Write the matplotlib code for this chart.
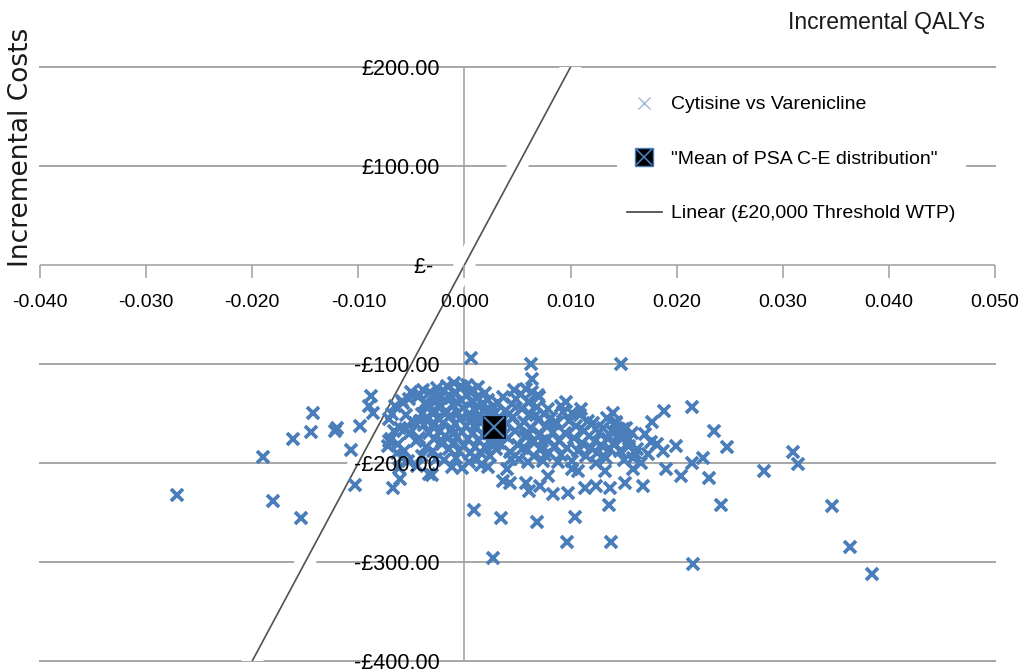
import matplotlib.pyplot as plt
import matplotlib.patheffects as pe
from matplotlib.lines import Line2D
from matplotlib import font_manager

# PSA runs: (incremental QALYs, incremental costs), by region
psa_far_left = [
    (-0.0271, -232), (-0.0190, -194), (-0.0180, -238), (-0.0154, -256),
    (-0.0162, -176), (-0.0145, -169), (-0.0143, -149), (-0.0122, -168),
    (-0.0120, -165), (-0.0098, -163), (-0.0107, -187), (-0.0103, -222),
    (-0.0088, -132), (-0.0090, -142), (-0.0086, -149), (-0.0067, -225),
    (-0.0061, -216), (-0.0031, -212), (-0.0002, -205),
]
psa_left = [
    (-0.0071, -156), (-0.0071, -178), (-0.0066, -168), (-0.0059, -137),
    (-0.0052, -135), (-0.0043, -130), (-0.0049, -158), (-0.0065, -142),
    (-0.0057, -188), (-0.0046, -178), (-0.0036, -184), (-0.0072, -183),
    (-0.0063, -181), (-0.0059, -195), (-0.0040, -151), (-0.0028, -161),
    (-0.0021, -178), (-0.0024, -135), (-0.0069, -176), (-0.0064, -190),
    (-0.0061, -165), (-0.0058, -139), (-0.0055, -152), (-0.0053, -198),
    (-0.0051, -170), (-0.0047, -160), (-0.0044, -133), (-0.0043, -175),
    (-0.0040, -193), (-0.0038, -162), (-0.0037, -139), (-0.0034, -155),
    (-0.0033, -170), (-0.0032, -128), (-0.0030, -188), (-0.0029, -146),
    (-0.0027, -196), (-0.0026, -124), (-0.0062, -205), (-0.0045, -203),
    (-0.0050, -128), (-0.0039, -126), (-0.0068, -150), (-0.0056, -166),
    (-0.0042, -158), (-0.0035, -141),
]
psa_core = [
    (-0.0024, -131), (-0.0019, -127), (-0.0013, -134), (-0.0008, -129),
    (-0.0003, -136), (0.0002, -131), (0.0007, -138), (0.0012, -133),
    (0.0017, -140), (0.0022, -136), (0.0027, -142), (0.0032, -139),
    (-0.0022, -142), (-0.0017, -147), (-0.0011, -141), (-0.0006, -149),
    (-0.0001, -144), (0.0004, -150), (0.0009, -145), (0.0014, -152),
    (0.0019, -147), (0.0024, -154), (0.0029, -149), (0.0034, -156),
    (-0.0025, -155), (-0.0020, -160), (-0.0014, -153), (-0.0009, -161),
    (-0.0004, -156), (0.0001, -163), (0.0006, -158), (0.0011, -165),
    (0.0016, -159), (0.0021, -166), (0.0026, -160), (0.0031, -167),
    (-0.0023, -168), (-0.0018, -173), (-0.0012, -166), (-0.0007, -174),
    (-0.0002, -169), (0.0003, -176), (0.0008, -170), (0.0013, -177),
    (0.0018, -172), (0.0023, -178), (0.0028, -173), (0.0033, -180),
    (-0.0021, -181), (-0.0015, -186), (-0.0010, -179), (-0.0005, -188),
    (0.0000, -183), (0.0005, -190), (0.0010, -184), (0.0015, -189),
    (0.0020, -185), (-0.0016, -122), (-0.0010, -119), (-0.0004, -124),
    (0.0002, -121), (0.0008, -126), (0.0013, -123), (-0.0028, -138),
    (-0.0030, -150), (-0.0031, -163), (-0.0029, -176), (-0.0019, -197),
    (-0.0008, -195), (0.0004, -199), (0.0012, -196), (0.0024, -193),
    (0.0030, -186), (-0.0012, -204), (0.0016, -202), (-0.0003, -122),
    (-0.0015, -131), (0.0005, -128), (0.0019, -129), (-0.0018, -151),
    (0.0007, -153), (0.0025, -147), (-0.0011, -171), (0.0009, -163),
    (0.0029, -181), (-0.0006, -139), (0.0014, -143), (0.0032, -168),
]
psa_mid = [
    (0.0036, -133), (0.0038, -147), (0.0040, -161), (0.0041, -175),
    (0.0043, -189), (0.0045, -140), (0.0046, -154), (0.0048, -168),
    (0.0050, -182), (0.0051, -196), (0.0053, -130), (0.0054, -145),
    (0.0056, -159), (0.0057, -173), (0.0059, -187), (0.0060, -138),
    (0.0062, -151), (0.0063, -165), (0.0065, -179), (0.0066, -193),
    (0.0068, -143), (0.0069, -157), (0.0071, -171), (0.0072, -185),
    (0.0074, -198), (0.0075, -150), (0.0077, -163), (0.0078, -177),
    (0.0080, -190), (0.0082, -155), (0.0083, -169), (0.0085, -183),
    (0.0058, -125), (0.0064, -128), (0.0047, -126), (0.0070, -133),
    (0.0006, -94), (0.0063, -100), (0.0064, -115), (0.0069, -131),
    (0.0037, -172), (0.0042, -150), (0.0049, -135), (0.0052, -163),
    (0.0055, -185), (0.0061, -171), (0.0067, -152), (0.0073, -178),
    (0.0079, -145), (0.0084, -160), (0.0044, -196), (0.0060, -199),
    (0.0076, -192),
]
psa_right = [
    (0.0087, -160), (0.0089, -178), (0.0091, -192), (0.0093, -148),
    (0.0095, -170), (0.0097, -185), (0.0099, -158), (0.0101, -198),
    (0.0103, -175), (0.0105, -163), (0.0107, -188), (0.0109, -152),
    (0.0111, -180), (0.0113, -168), (0.0115, -193), (0.0117, -173),
    (0.0119, -185), (0.0121, -160), (0.0123, -178), (0.0125, -190),
    (0.0127, -170), (0.0129, -182), (0.0131, -165), (0.0133, -195),
    (0.0135, -176), (0.0137, -186), (0.0139, -168), (0.0141, -180),
    (0.0143, -160), (0.0145, -172), (0.0147, -188), (0.0149, -175),
    (0.0152, -165), (0.0155, -183), (0.0158, -170), (0.0161, -190),
    (0.0096, -138), (0.0110, -145), (0.0088, -199), (0.0124, -200),
    (0.0134, -155), (0.0150, -197), (0.0091, -142), (0.0101, -149),
    (0.0116, -158), (0.0140, -149), (0.0143, -159), (0.0146, -166),
    (0.0151, -166), (0.0148, -100), (0.0149, -166), (0.0155, -176),
    (0.0163, -186), (0.0170, -171), (0.0166, -200),
]
psa_low = [
    (-0.0033, -211), (0.0022, -204), (0.0009, -247), (0.0034, -256),
    (0.0027, -296), (0.0036, -218), (0.0043, -220), (0.0040, -206),
    (0.0058, -220), (0.0061, -228), (0.0068, -260), (0.0071, -223),
    (0.0079, -213), (0.0083, -231), (0.0097, -280), (0.0098, -230),
    (0.0104, -255), (0.0107, -208), (0.0114, -225), (0.0124, -223),
    (0.0137, -225), (0.0136, -242), (0.0138, -280), (0.0151, -220),
    (0.0159, -195), (0.0132, -208), (0.0101, -206),
]
psa_far_right = [
    (0.0214, -143), (0.0188, -147), (0.0177, -159), (0.0235, -168),
    (0.0247, -184), (0.0199, -183), (0.0225, -195), (0.0214, -200),
    (0.0230, -215), (0.0204, -213), (0.0190, -206), (0.0187, -188),
    (0.0173, -191), (0.0176, -179), (0.0181, -181), (0.0159, -206),
    (0.0168, -223), (0.0242, -242), (0.0215, -302), (0.0282, -208),
    (0.0310, -189), (0.0314, -201), (0.0346, -243), (0.0363, -285),
    (0.0384, -312),
]

mean_qaly = 0.0028
mean_cost = -164

# £20,000 per QALY threshold line
wtp_qaly = [-0.020, 0.010]
wtp_cost = [-400, 200]

qaly_ticks = [-0.040, -0.030, -0.020, -0.010, 0.000, 0.010, 0.020, 0.030, 0.040, 0.050]
qaly_labels = ['-0.040', '-0.030', '-0.020', '-0.010', '0.000', '0.010', '0.020', '0.030', '0.040', '0.050']
cost_ticks = [200, 100, 0, -100, -200, -300, -400]
cost_labels = ['£200.00', '£100.00', '£- ', '-£100.00', '-£200.00', '-£300.00', '-£400.00']

BLUE = '#4a7ebb'
GRID = '#a6a6a6'

names = {f.name for f in font_manager.fontManager.ttflist}
NARROW = 'Liberation Sans Narrow' if 'Liberation Sans Narrow' in names else 'Liberation Sans'
plt.rcParams['font.family'] = [NARROW, 'DejaVu Sans']

psa_all = psa_far_left + psa_left + psa_core + psa_mid + psa_right + psa_low + psa_far_right
qaly_diff = [p[0] for p in psa_all]
cost_diff = [p[1] for p in psa_all]

fig = plt.figure(figsize=(10.24, 6.72), dpi=100)
ax = fig.add_axes([40 / 1024, 11 / 672, 955 / 1024, 594 / 672])
ax.set_xlim(-0.040, 0.050)
ax.set_ylim(-400, 200)

# gridlines and axis lines drawn by hand so the threshold line can mask them
for c in cost_ticks:
    if c != 0:
        ax.axhline(c, color=GRID, lw=1.4, zorder=1, clip_on=False)
ax.axhline(0, color=GRID, lw=1.2, zorder=1)
ax.axvline(0, color=GRID, lw=1.2, zorder=1, clip_on=False)

for s in ax.spines.values():
    s.set_visible(False)
ax.spines['bottom'].set_position(('data', 0))
ax.spines['left'].set_position(('data', 0))

ax.set_xticks(qaly_ticks)
ax.set_xticklabels(qaly_labels)
ax.set_yticks(cost_ticks)
ax.set_yticklabels(cost_labels)
ax.tick_params(axis='x', direction='out', length=9, width=1.2, color=GRID,
               pad=12, labelsize=14)
ax.tick_params(axis='y', length=0, pad=18, labelsize=15.5)
# tick labels sit on top of the threshold line and the points
ax.xaxis.set_zorder(7)
ax.yaxis.set_zorder(7)

ax.plot(wtp_qaly, wtp_cost, color='#505050', lw=1.2, zorder=2,
        path_effects=[pe.Stroke(linewidth=14, foreground='white'), pe.Normal()])

ax.plot(qaly_diff, cost_diff, linestyle='none', marker='x', ms=9, mew=2.7,
        color=BLUE, zorder=3)

ax.plot([mean_qaly], [mean_cost], linestyle='none', marker='s', ms=17,
        mfc='black', mec=BLUE, mew=1, zorder=4)
ax.plot([mean_qaly], [mean_cost], linestyle='none', marker='x', ms=14,
        mew=1.5, color=BLUE, zorder=5)

h_psa = Line2D([], [], linestyle='none', marker='x', ms=8, mew=1, color='#9db5da')
h_mean_sq = Line2D([], [], linestyle='none', marker='s', ms=13, mfc='black', mec=BLUE, mew=1)
h_mean_x = Line2D([], [], linestyle='none', marker='x', ms=11, mew=1.2, color=BLUE)
h_wtp = Line2D([], [], color='#404040', lw=1.2)
leg = ax.legend([h_psa, (h_mean_sq, h_mean_x), h_wtp],
                ['Cytisine vs Varenicline', '"Mean of PSA C-E distribution"',
                 'Linear (£20,000 Threshold WTP)'],
                loc='upper left', bbox_to_anchor=(617 / 1024, 1 - 86 / 672),
                bbox_transform=fig.transFigure, borderaxespad=0,
                frameon=True, facecolor='white', edgecolor='none', framealpha=1,
                fontsize=14, handlelength=1.8, handletextpad=0.5,
                labelspacing=1.9, borderpad=0.5)
leg.set_zorder(8)

fig.text(985 / 1024, 1 - 22 / 672, 'Incremental QALYs', ha='right', va='center',
         fontsize=16.5, color='#1a1a1a')
fig.text(21 / 1024, 1 - 147 / 672, 'Incremental Costs', rotation=90,
         ha='center', va='center', fontsize=19, family='DejaVu Sans', color='#1a1a1a')

fig.savefig('out.png', dpi=100)
